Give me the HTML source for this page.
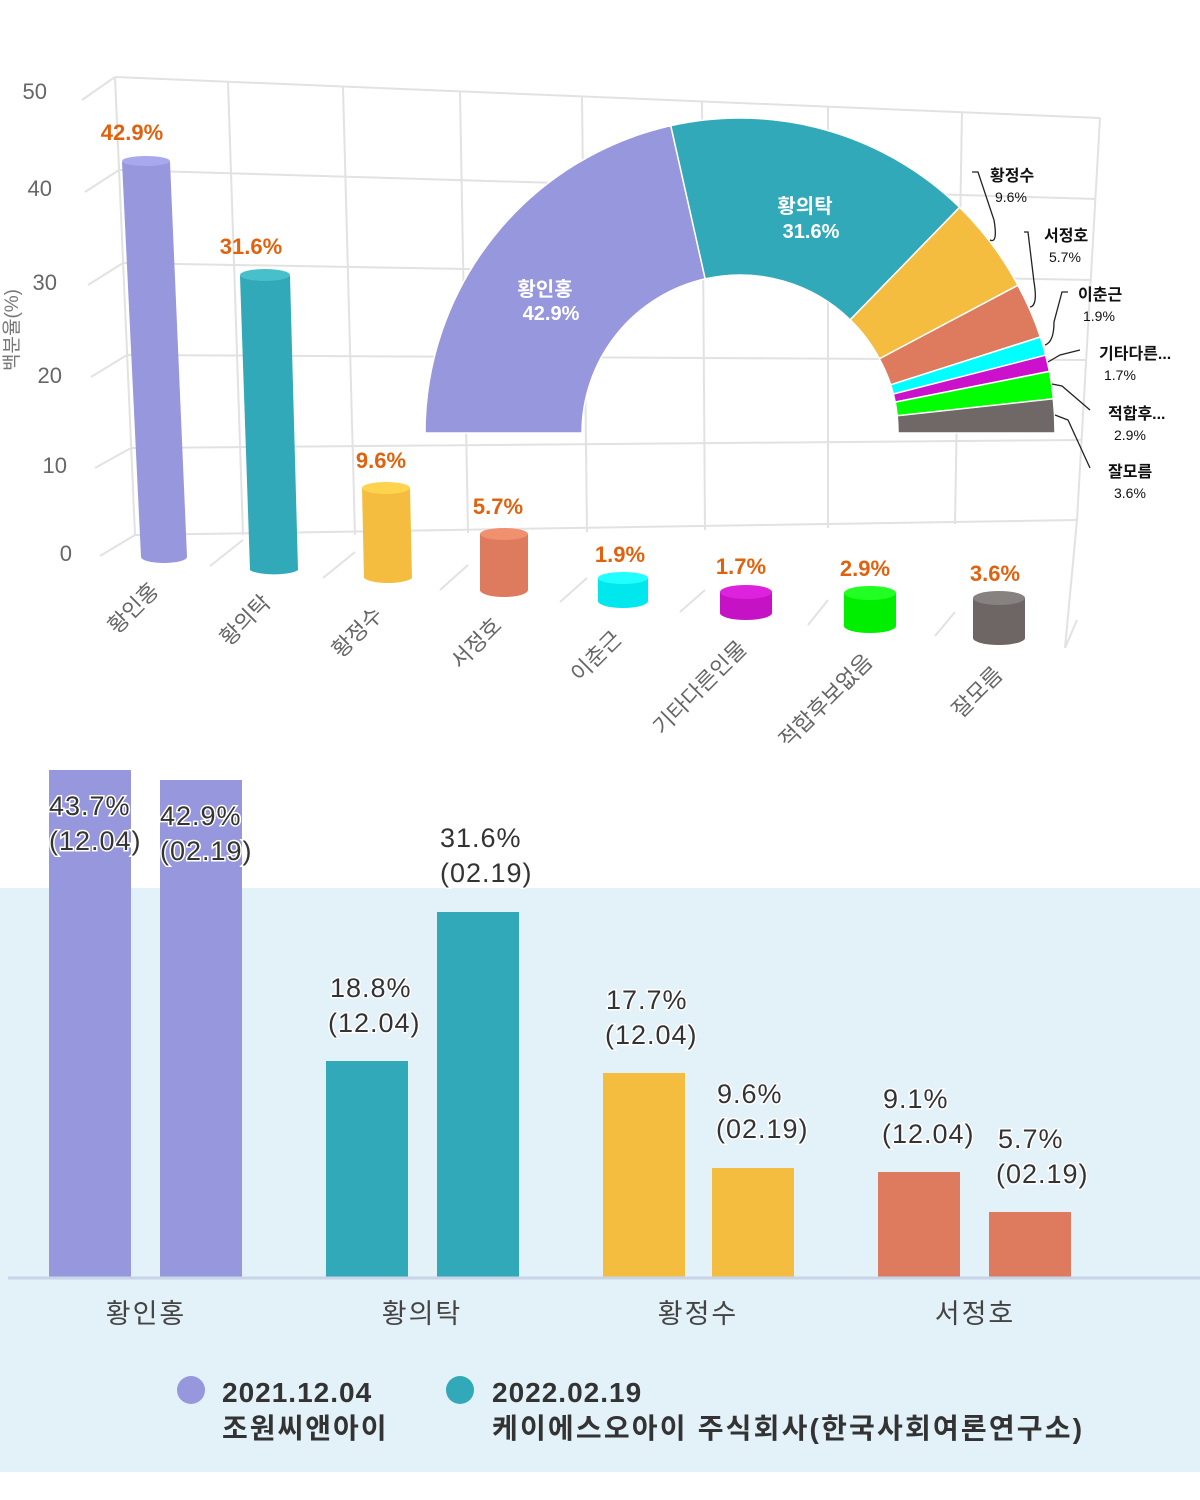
<!DOCTYPE html>
<html><head><meta charset="utf-8"><style>
html,body{margin:0;padding:0;background:#fff;width:1200px;height:1500px;overflow:hidden}
svg{display:block}
.k{font-family:"Liberation Sans","Noto Sans CJK KR",sans-serif}
</style></head><body>
<svg width="1200" height="1500" viewBox="0 0 1200 1500" class="k">
<rect x="0" y="888" width="1200" height="584" fill="#e3f1f8"/>

<g stroke="#e2e2e2" stroke-width="2" fill="none">
 <line x1="115" y1="77" x2="1100" y2="118"/>
 <line x1="119" y1="170" x2="1096" y2="199"/>
 <line x1="123" y1="263" x2="1092" y2="280"/>
 <line x1="127" y1="355" x2="1087" y2="360"/>
 <line x1="131" y1="448" x2="1082" y2="440"/>
 <line x1="135" y1="535" x2="1077" y2="520"/>
 <line x1="82" y1="100" x2="115" y2="77"/>
 <line x1="85" y1="192" x2="119" y2="170"/>
 <line x1="88" y1="285" x2="123" y2="263"/>
 <line x1="91" y1="377" x2="127" y2="355"/>
 <line x1="95" y1="468" x2="131" y2="448"/>
 <line x1="100" y1="556" x2="135" y2="535"/>
 <line x1="115" y1="77" x2="135" y2="535"/>
 <line x1="228" y1="82" x2="243" y2="535"/>
 <line x1="343" y1="87" x2="355" y2="535"/>
 <line x1="460" y1="92" x2="468" y2="533"/>
 <line x1="582" y1="97" x2="587" y2="532"/>
 <line x1="702" y1="102" x2="705" y2="530"/>
 <line x1="828" y1="107" x2="828" y2="528"/>
 <line x1="962" y1="112" x2="955" y2="524"/>
 <line x1="1100" y1="118" x2="1077" y2="520"/>
 <line x1="210" y1="566" x2="243" y2="540"/>
 <line x1="323" y1="578" x2="355" y2="552"/>
 <line x1="440" y1="590" x2="468" y2="565"/>
 <line x1="560" y1="602" x2="587" y2="578"/>
 <line x1="680" y1="612" x2="705" y2="590"/>
 <line x1="808" y1="625" x2="828" y2="600"/>
 <line x1="935" y1="636" x2="955" y2="612"/>
 <line x1="1065" y1="648" x2="1077" y2="620"/>
 <line x1="1077" y1="520" x2="1065" y2="648"/>
</g>
<g fill="#666" font-size="22" text-anchor="end">
 <text x="47" y="99">50</text><text x="52" y="196">40</text><text x="57" y="290">30</text>
 <text x="62" y="383">20</text><text x="67" y="473">10</text><text x="72" y="561">0</text>
</g>
<text transform="translate(18,330) rotate(-90)" font-size="19" fill="#777" text-anchor="middle">백분율(%)</text>

<g>
 <path d="M122,162 L170,162 L187,557 A23,6 0 0 1 141,557 Z" fill="#9797dd"/>
 <ellipse cx="146" cy="161" rx="24" ry="5" fill="#a8a8ee"/>
 <path d="M240,276 L290,276 L298,570 A25,6 0 0 1 250,570 Z" fill="#31a9b8"/>
 <ellipse cx="265" cy="275" rx="25" ry="6" fill="#47c0cc"/>
 <path d="M362,488 L410,488 L412,578 A25,7 0 0 1 364,578 Z" fill="#f4bd40"/>
 <ellipse cx="386" cy="488" rx="24" ry="6" fill="#ffd34e"/>
 <path d="M480,534 L528,534 L528,590 A24,7 0 0 1 480,590 Z" fill="#de7a5d"/>
 <ellipse cx="504" cy="534" rx="24" ry="6" fill="#f0906f"/>
 <path d="M598,578 L648,578 L648,601 A25,7 0 0 1 598,601 Z" fill="#00e8ee"/>
 <ellipse cx="623" cy="578" rx="25" ry="6" fill="#22ffff"/>
 <path d="M720,592 L772,592 L772,613 A26,7 0 0 1 720,613 Z" fill="#c512c5"/>
 <ellipse cx="746" cy="592" rx="26" ry="7" fill="#dd22dd"/>
 <path d="M844,593 L896,593 L896,626 A26,7 0 0 1 844,626 Z" fill="#00ee00"/>
 <ellipse cx="870" cy="593" rx="26" ry="7" fill="#22ff22"/>
 <path d="M973,598 L1025,598 L1025,638 A26,7 0 0 1 973,638 Z" fill="#6e6664"/>
 <ellipse cx="999" cy="598" rx="26" ry="7" fill="#878180"/>
</g>
<g fill="#e0620e" font-size="22" font-weight="bold" text-anchor="middle">
 <text x="132" y="140">42.9%</text><text x="251" y="254">31.6%</text>
 <text x="381" y="468">9.6%</text><text x="498" y="514">5.7%</text>
 <text x="620" y="562">1.9%</text><text x="741" y="574">1.7%</text>
 <text x="865" y="576">2.9%</text><text x="995" y="581">3.6%</text>
</g>
<g fill="#666" font-size="22" text-anchor="end">
 <text transform="translate(160,592) rotate(-45)">황인홍</text>
 <text transform="translate(272,604) rotate(-45)">황의탁</text>
 <text transform="translate(384,616) rotate(-45)">황정수</text>
 <text transform="translate(503,627) rotate(-45)">서정호</text>
 <text transform="translate(623,640) rotate(-45)">이춘근</text>
 <text transform="translate(748,650) rotate(-45)">기타다른인물</text>
 <text transform="translate(874,663) rotate(-45)">적합후보없음</text>
 <text transform="translate(1004,676) rotate(-45)">잘모름</text>
</g>

<g stroke="#fff" stroke-width="1.5">
 <path d="M425,433 A315,315 0 0 1 670.8,125.7 L705.2,278.9 A158,158 0 0 0 582,433Z" fill="#9797dd"/>
 <path d="M670.8,125.7 A315,315 0 0 1 959.6,207.3 L850.2,319.8 A158,158 0 0 0 705.2,278.9Z" fill="#31a9b8"/>
 <path d="M959.6,207.3 A315,315 0 0 1 1017.9,285.3 L879.4,358.8 A158,158 0 0 0 850.2,319.8Z" fill="#f4bd40"/>
 <path d="M1017.9,285.3 A315,315 0 0 1 1040.4,337.0 L890.7,384.8 A158,158 0 0 0 879.4,358.8Z" fill="#de7a5d"/>
 <path d="M1040.4,337.0 A315,315 0 0 1 1045.6,355.2 L893.3,394.0 A158,158 0 0 0 890.7,384.8Z" fill="#00ffff"/>
 <path d="M1045.6,355.2 A315,315 0 0 1 1049.4,371.4 L895.2,402.1 A158,158 0 0 0 893.3,394.0Z" fill="#cc11cc"/>
 <path d="M1049.4,371.4 A315,315 0 0 1 1053.3,398.8 L897.2,415.8 A158,158 0 0 0 895.2,402.1Z" fill="#00ff00"/>
 <path d="M1053.3,398.8 A315,315 0 0 1 1055,433 L898,433 A158,158 0 0 0 897.2,415.8Z" fill="#706866"/>
</g>
<g fill="#fff" font-size="20" font-weight="bold" text-anchor="middle">
 <text x="545" y="296">황인홍</text><text x="551" y="320">42.9%</text>
 <text x="805" y="213">황의탁</text><text x="811" y="238">31.6%</text>
</g>
<g stroke="#222" stroke-width="1.3" fill="none">
 <path d="M990,240 Q998,244 994,220 L978,172 L972,172"/>
 <path d="M1030,307 Q1038,306 1034,282 L1028,232 L1024,232"/>
 <path d="M1045,345 Q1054,342 1054,322 L1062,292 L1068,292"/>
 <path d="M1048,362 L1060,355 L1080,350"/>
 <path d="M1052,384 L1062,386 L1090,410"/>
 <path d="M1055,415 L1068,420 L1090,468"/>
</g>
<g font-size="16" fill="#111">
 <text x="990" y="181" font-weight="bold">황정수</text><text x="995" y="202" font-size="14">9.6%</text>
 <text x="1044" y="241" font-weight="bold">서정호</text><text x="1049" y="262" font-size="14">5.7%</text>
 <text x="1078" y="300" font-weight="bold">이춘근</text><text x="1083" y="321" font-size="14">1.9%</text>
 <text x="1099" y="359" font-weight="bold">기타다른...</text><text x="1104" y="380" font-size="14">1.7%</text>
 <text x="1108" y="419" font-weight="bold">적합후...</text><text x="1114" y="440" font-size="14">2.9%</text>
 <text x="1108" y="477" font-weight="bold">잘모름</text><text x="1114" y="498" font-size="14">3.6%</text>
</g>

<rect x="49" y="770" width="82" height="507" fill="#9797dd"/>
<rect x="160" y="780" width="82" height="497" fill="#9797dd"/>
<rect x="326" y="1061" width="82" height="216" fill="#31a9b8"/>
<rect x="437" y="912" width="82" height="365" fill="#31a9b8"/>
<rect x="603" y="1073" width="82" height="204" fill="#f4bd40"/>
<rect x="712" y="1168" width="82" height="109" fill="#f4bd40"/>
<rect x="878" y="1172" width="82" height="105" fill="#de7a5d"/>
<rect x="989" y="1212" width="82" height="65" fill="#de7a5d"/>
<line x1="8" y1="1278" x2="1200" y2="1278" stroke="#c8d4e8" stroke-width="3"/>
<g font-size="27" fill="#333" stroke="#fff" stroke-width="3" paint-order="stroke" letter-spacing="1" font-family="Liberation Sans Narrow, Liberation Sans, sans-serif">
 <text x="49" y="815">43.7%</text><text x="49" y="850">(12.04)</text>
 <text x="160" y="825">42.9%</text><text x="160" y="860">(02.19)</text>
 <text x="440" y="847">31.6%</text><text x="440" y="882">(02.19)</text>
 <text x="330" y="997">18.8%</text><text x="328" y="1032">(12.04)</text>
 <text x="606" y="1009">17.7%</text><text x="605" y="1044">(12.04)</text>
 <text x="717" y="1103">9.6%</text><text x="716" y="1138">(02.19)</text>
 <text x="883" y="1108">9.1%</text><text x="882" y="1143">(12.04)</text>
 <text x="998" y="1148">5.7%</text><text x="996" y="1183">(02.19)</text>
</g>
<g font-size="27" fill="#444" text-anchor="middle" letter-spacing="2">
 <text x="146" y="1323">황인홍</text><text x="422" y="1323">황의탁</text>
 <text x="698" y="1323">황정수</text><text x="975" y="1323">서정호</text>
</g>
<circle cx="191" cy="1390" r="14" fill="#9797dd"/>
<circle cx="460" cy="1390" r="14" fill="#31a9b8"/>
<g font-size="28" font-weight="bold" fill="#333">
 <text x="222" y="1402" letter-spacing="1">2021.12.04</text><text x="222" y="1438" letter-spacing="2">조원씨앤아이</text>
 <text x="492" y="1402" letter-spacing="1">2022.02.19</text><text x="492" y="1438" letter-spacing="2.2">케이에스오아이 주식회사(한국사회여론연구소)</text>
</g>
</svg>
</body></html>
